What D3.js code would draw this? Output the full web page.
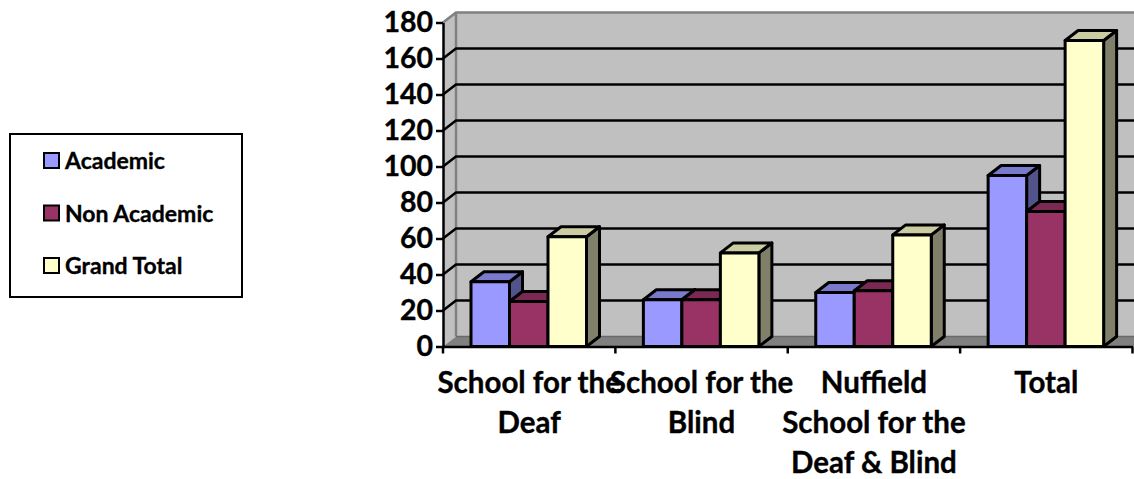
<!DOCTYPE html>
<html lang="en">
<head>
    <meta charset="UTF-8">
    <title>Academic and Non Academic Staff</title>
    <script src="https://d3js.org/d3.v7.min.js"></script>
    <style>
        html, body { margin: 0; padding: 0; background: #fff; overflow: hidden; }
        text { font-family: Lato, "Open Sans", sans-serif; font-weight: 700; fill: #000; stroke: #000; stroke-width: 0.35px; }
    </style>
</head>
<body>
    <div id="chart"></div>
    <script>
        // Data
        const categories = ["School for the Deaf", "School for the Blind", "Nuffield School for the Deaf & Blind", "Total"];
        const categoryLines = [
            ["School for the", "Deaf"],
            ["School for the", "Blind"],
            ["Nuffield", "School for the", "Deaf & Blind"],
            ["Total"]
        ];
        const seriesNames = ["Academic", "Non Academic", "Grand Total"];
        const academic = [36, 26, 30, 95];
        const nonAcademic = [25, 26, 31, 75];
        const grandTotal = [61, 52, 62, 170];
        const yTicks = [0, 20, 40, 60, 80, 100, 120, 140, 160, 180];

        const seriesValues = [academic, nonAcademic, grandTotal];
        const frontColors = ["#9999ff", "#993366", "#ffffcc"];
        const topColors = ["#7a7acc", "#7a2952", "#cccca3"];
        const sideColors = ["#53538c", "#541c38", "#80806a"];

        const width = 1134;
        const height = 479;
        const dx = 13;   // 3d depth, to the right
        const dy = 10;   // 3d depth, upward

        const svg = d3.select("#chart").append("svg")
            .attr("width", width)
            .attr("height", height);

        const x = d3.scaleBand().domain(categories).range([443, 1132.5]);
        const y = d3.scaleLinear().domain([0, 180]).range([346.5, 22.5]);
        const inner = d3.scaleBand().domain(d3.range(seriesNames.length))
            .range([28, 143.5]);

        const poly = pts => pts.map(p => p.join(",")).join(" ");
        const x0 = x.range()[0];
        const y0 = y(0);
        const yTop = y(180);

        // Back wall, side wall and floor
        svg.append("polygon")
            .attr("points", poly([[x0, yTop], [x0 + dx, yTop - dy], [width + 5, yTop - dy], [width + 5, y0 - dy], [x0 + dx, y0 - dy], [x0, y0]]))
            .attr("fill", "#c0c0c0")
            .attr("stroke", "none");
        svg.append("polyline")
            .attr("points", poly([[x0, yTop], [x0 + dx, yTop - dy], [width + 5, yTop - dy]]))
            .attr("fill", "none")
            .attr("stroke", "#808080")
            .attr("stroke-width", 2.5);
        svg.append("line")
            .attr("x1", x0 + dx).attr("x2", x0 + dx)
            .attr("y1", yTop - dy).attr("y2", y0 - dy)
            .attr("stroke", "#808080")
            .attr("stroke-width", 2.5);
        svg.append("polygon")
            .attr("points", poly([[x0, y0], [x0 + dx, y0 - dy], [width + 5, y0 - dy], [width + 5, y0]]))
            .attr("fill", "#808080")
            .attr("stroke", "none");
        svg.append("line")
            .attr("x1", x0 + dx).attr("x2", width + 5)
            .attr("y1", y0 - dy).attr("y2", y0 - dy)
            .attr("stroke", "#6a6a6a")
            .attr("stroke-width", 1.5);

        // Gridlines on the wall
        svg.append("g").selectAll("polyline")
            .data(yTicks.filter(d => d > 0 && d < 180))
            .enter()
            .append("polyline")
            .attr("points", d => poly([[x0, y(d)], [x0 + dx, y(d) - dy], [width + 5, y(d) - dy]]))
            .attr("fill", "none")
            .attr("stroke", "#000")
            .attr("stroke-width", 2.5);

        // Bars, drawn left to right so each one covers the side of the one before
        const barData = categories.flatMap((c, i) =>
            seriesValues.map((vals, s) => ({ category: c, series: s, value: vals[i] })));

        const bars = svg.append("g").selectAll("g")
            .data(barData)
            .enter()
            .append("g")
            .attr("stroke", "#000")
            .attr("stroke-width", 3)
            .attr("stroke-linejoin", "round");

        const left = d => x(d.category) + inner(d.series);
        const right = d => left(d) + inner.bandwidth();

        bars.append("polygon") // side
            .attr("points", d => poly([[right(d), y(d.value)], [right(d) + dx, y(d.value) - dy], [right(d) + dx, y0 - dy], [right(d), y0]]))
            .attr("fill", d => sideColors[d.series]);
        bars.append("polygon") // top
            .attr("points", d => poly([[left(d), y(d.value)], [left(d) + dx, y(d.value) - dy], [right(d) + dx, y(d.value) - dy], [right(d), y(d.value)]]))
            .attr("fill", d => topColors[d.series]);
        bars.append("rect") // front
            .attr("x", left)
            .attr("y", d => y(d.value))
            .attr("width", inner.bandwidth())
            .attr("height", d => y0 - y(d.value))
            .attr("fill", d => frontColors[d.series]);

        // Y axis
        const yAxis = svg.append("g")
            .attr("transform", `translate(${x0},0)`)
            .call(d3.axisLeft(y).tickValues(yTicks).tickFormat(d3.format("d")).tickSize(7).tickSizeOuter(0).tickPadding(3));
        yAxis.selectAll("path, line").attr("stroke", "#000").attr("stroke-width", 2.5);
        yAxis.selectAll("text").attr("font-size", 28.5).style("font-family", "Lato, sans-serif").style("font-weight", 700);

        // X axis: ticks sit on the band edges, labels are added by hand as wrapped lines
        const xAxis = svg.append("g")
            .attr("transform", `translate(0,${y0})`)
            .call(d3.axisBottom(x).tickSize(0).tickFormat(""));
        xAxis.select("path").attr("stroke", "#000").attr("stroke-width", 2.5);
        xAxis.selectAll(".tick").remove();

        const edges = categories.map(c => x(c)).concat(x.range()[1]);
        svg.append("g").selectAll("line")
            .data(edges)
            .enter()
            .append("line")
            .attr("x1", d => d).attr("x2", d => d)
            .attr("y1", y0).attr("y2", y0 + 7)
            .attr("stroke", "#000")
            .attr("stroke-width", 2.5);

        const labels = svg.append("g").selectAll("text")
            .data(categories)
            .enter()
            .append("text")
            .attr("text-anchor", "middle")
            .attr("font-size", 29.5);
        labels.selectAll("tspan")
            .data((c, i) => categoryLines[i].map(t => ({ t, c })))
            .enter()
            .append("tspan")
            .attr("x", d => x(d.c) + x.bandwidth() / 2)
            .attr("y", (d, i) => 392.5 + i * 40)
            .text(d => d.t);

        // Legend
        svg.append("rect")
            .attr("x", 10).attr("y", 134)
            .attr("width", 232).attr("height", 163)
            .attr("fill", "#fff")
            .attr("stroke", "#000")
            .attr("stroke-width", 2);

        const legendY = d3.scalePoint().domain(seriesNames).range([161, 266]);
        const legend = svg.append("g").selectAll("g")
            .data(seriesNames)
            .enter()
            .append("g")
            .attr("transform", d => `translate(0,${legendY(d)})`);
        legend.append("rect")
            .attr("x", 44).attr("y", -8)
            .attr("width", 15).attr("height", 15)
            .attr("fill", (d, i) => frontColors[i])
            .attr("stroke", "#000")
            .attr("stroke-width", 2);
        legend.append("text")
            .attr("x", 65).attr("y", 8)
            .attr("font-size", 23)
            .text(d => d);
    </script>
</body>
</html>
